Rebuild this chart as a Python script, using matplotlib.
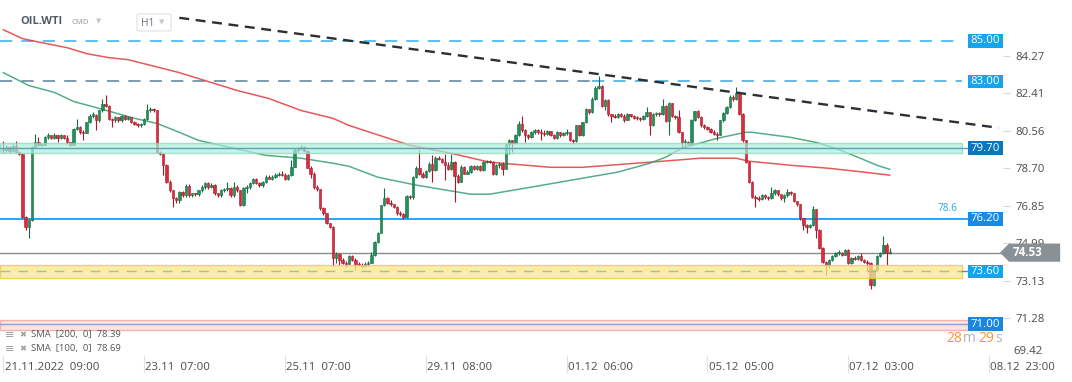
import numpy as np
import matplotlib
matplotlib.use("Agg")
import matplotlib.pyplot as plt
from matplotlib.transforms import blended_transform_factory
from matplotlib.patches import Rectangle, Polygon, FancyBboxPatch

plt.rcParams['font.family'] = ['Open Sans', 'DejaVu Sans']

# OIL.WTI hourly candles, 21.11.2022 -> 08.12.2022
first_open = 79.67
closes = [79.59, 79.75, 79.55, 79.80, 79.50, 79.42, 76.30, 75.81, 76.14, 79.75,
          80.00, 79.83, 79.87, 80.24, 80.33, 80.20, 80.33, 80.20, 80.33, 80.20,
          80.00, 79.87, 80.66, 80.74, 80.49, 80.45, 80.98, 81.31, 81.35, 81.07,
          81.56, 81.89, 81.80, 81.15, 81.07, 81.23, 81.07, 81.31, 81.15, 81.23,
          80.98, 80.90, 80.82, 80.90, 81.15, 81.56, 81.64, 81.56, 79.51, 79.42,
          78.85, 78.03, 77.62, 77.21, 77.13, 77.54, 77.37, 77.83, 77.37, 77.46,
          77.41, 77.62, 77.78, 77.95, 77.78, 77.87, 77.46, 77.37, 77.62, 77.70,
          77.74, 77.37, 77.78, 77.62, 76.88, 77.74, 77.78, 77.95, 78.16, 77.95,
          77.87, 78.00, 78.28, 78.19, 78.28, 78.36, 78.44, 78.36, 78.19, 78.36,
          78.77, 79.59, 79.64, 79.75, 79.54, 78.72, 78.44, 77.78, 77.67, 76.72,
          76.47, 75.98, 75.81, 74.25, 74.45, 74.17, 74.04, 73.97, 74.37, 74.17,
          73.99, 73.92, 73.87, 73.97, 74.04, 74.41, 75.07, 75.51, 76.88, 77.21,
          76.99, 76.93, 76.80, 76.47, 76.42, 76.27, 77.34, 77.26, 78.27, 78.73,
          78.40, 78.27, 78.57, 78.93, 78.60, 79.23, 79.18, 79.01, 78.85, 78.68,
          79.01, 78.31, 78.03, 78.77, 78.44, 78.52, 78.80, 78.68, 78.80, 78.60,
          79.01, 79.05, 79.00, 78.40, 78.85, 78.93, 78.68, 79.92, 80.08, 79.95,
          80.33, 80.90, 80.57, 80.33, 80.24, 80.49, 80.57, 80.49, 80.45, 80.40,
          80.54, 80.37, 80.21, 80.49, 80.33, 80.44, 80.49, 80.11, 80.03, 80.82,
          80.33, 80.98, 81.64, 81.47, 82.13, 82.67, 82.79, 81.80, 82.10, 81.36,
          81.31, 81.26, 81.39, 81.31, 81.10, 81.39, 81.31, 81.20, 81.17, 81.12,
          81.31, 81.47, 80.82, 81.39, 81.43, 81.39, 81.80, 81.06, 81.92, 81.31,
          81.23, 80.49, 80.00, 80.02, 79.90, 81.10, 81.52, 81.25, 80.82, 80.74,
          80.66, 80.49, 80.41, 80.37, 81.07, 81.43, 81.73, 82.22, 82.14, 82.42,
          81.40, 80.08, 79.02, 78.03, 77.29, 77.22, 77.18, 77.37, 77.29, 77.22,
          77.49, 77.62, 77.42, 77.21, 77.37, 77.54, 77.46, 77.10, 76.93, 76.23,
          75.90, 75.81, 75.90, 76.67, 75.65, 74.75, 74.09, 73.93, 74.17, 74.34,
          74.50, 74.52, 74.42, 74.67, 74.04, 74.26, 74.21, 74.34, 74.17, 74.09,
          74.00, 72.94, 73.65, 74.34, 74.50, 74.91, 74.50, 74.53]
highs = [80.05, 79.85, 79.80, 79.90, 80.05, 79.55, 79.45, 76.35, 76.20, 79.80,
         80.41, 80.24, 79.95, 80.30, 80.45, 80.35, 80.45, 80.35, 80.40, 80.35,
         80.35, 80.00, 80.70, 81.15, 80.80, 80.60, 81.00, 81.40, 81.50, 81.40,
         81.60, 82.13, 82.30, 81.85, 81.20, 81.30, 81.25, 81.35, 81.35, 81.30,
         81.25, 81.05, 80.95, 80.95, 81.20, 81.89, 81.75, 81.70, 81.60, 79.55,
         79.45, 78.90, 78.10, 77.65, 77.30, 77.60, 77.60, 77.90, 77.90, 77.50,
         77.50, 77.65, 77.85, 78.00, 78.00, 77.95, 77.90, 77.50, 77.70, 77.75,
         78.03, 77.80, 78.00, 77.85, 77.65, 77.80, 77.85, 78.00, 78.20, 78.20,
         78.00, 78.05, 78.39, 78.35, 78.35, 78.45, 78.50, 78.55, 78.45, 78.40,
         79.10, 79.70, 79.75, 79.84, 79.80, 79.60, 78.80, 78.50, 77.85, 77.70,
         76.80, 76.50, 76.00, 75.85, 74.55, 74.50, 74.25, 74.10, 74.42, 74.40,
         74.25, 74.05, 74.00, 74.05, 74.10, 74.58, 75.10, 75.55, 76.90, 77.75,
         77.30, 77.15, 76.95, 76.85, 76.60, 76.50, 77.40, 77.40, 78.30, 78.80,
         79.59, 78.50, 78.60, 79.00, 79.34, 79.30, 79.30, 79.20, 79.42, 79.00,
         79.42, 79.05, 78.40, 78.85, 78.80, 78.60, 78.85, 78.85, 78.85, 78.85,
         79.05, 79.10, 79.10, 79.05, 78.90, 79.00, 79.00, 79.95, 80.15, 80.10,
         80.40, 81.03, 81.31, 80.65, 80.40, 80.55, 80.65, 80.65, 80.62, 80.60,
         80.60, 80.55, 80.40, 80.55, 80.50, 80.50, 80.65, 80.50, 80.15, 80.85,
         80.85, 81.00, 81.70, 81.65, 82.20, 82.75, 83.28, 82.80, 82.15, 82.15,
         81.40, 81.40, 81.45, 81.45, 81.40, 81.45, 81.40, 81.35, 81.30, 81.25,
         81.35, 81.72, 81.50, 81.45, 81.50, 81.50, 82.13, 81.85, 82.00, 81.95,
         81.35, 81.56, 80.50, 80.15, 80.05, 81.15, 81.55, 81.60, 81.30, 80.90,
         80.80, 80.70, 80.60, 80.50, 81.10, 81.50, 81.80, 82.30, 82.30, 82.71,
         82.50, 81.45, 80.10, 79.05, 78.05, 77.40, 77.35, 77.45, 77.45, 77.35,
         77.79, 77.70, 77.65, 77.45, 77.45, 77.70, 77.60, 77.50, 77.10, 76.95,
         76.25, 75.95, 75.95, 76.83, 76.70, 75.70, 74.80, 74.10, 74.20, 74.40,
         74.55, 74.67, 74.55, 74.72, 74.70, 74.30, 74.35, 74.40, 74.53, 74.20,
         74.15, 74.05, 73.70, 74.40, 74.55, 75.36, 75.00, 74.75]
lows = [79.45, 79.50, 79.45, 79.50, 79.45, 79.34, 76.25, 75.65, 75.24, 76.10,
        79.70, 79.80, 79.80, 79.85, 80.15, 80.15, 80.15, 80.00, 80.15, 80.15,
        79.90, 79.80, 79.85, 80.60, 80.40, 80.10, 80.45, 80.95, 81.20, 80.57,
        81.00, 81.50, 81.75, 81.10, 80.74, 81.00, 81.00, 81.00, 81.10, 81.10,
        80.95, 80.85, 80.75, 80.75, 80.85, 81.10, 81.50, 81.50, 79.45, 79.35,
        78.36, 77.95, 77.55, 76.80, 77.00, 77.00, 77.30, 77.30, 77.30, 77.30,
        77.35, 77.35, 77.55, 77.70, 77.70, 77.75, 77.40, 77.30, 77.30, 77.55,
        77.60, 77.30, 77.30, 77.55, 76.85, 76.85, 77.50, 77.70, 77.90, 77.90,
        77.80, 77.80, 77.95, 78.15, 78.10, 78.20, 78.30, 78.30, 78.10, 78.10,
        78.30, 78.75, 79.50, 79.60, 79.50, 78.70, 78.20, 77.70, 77.60, 76.65,
        76.40, 75.95, 75.75, 73.89, 74.00, 73.90, 73.95, 73.84, 73.95, 74.10,
        73.68, 73.85, 73.75, 73.80, 73.85, 74.00, 74.35, 75.00, 75.50, 76.85,
        76.95, 76.85, 76.75, 76.40, 76.35, 76.20, 76.25, 77.20, 77.20, 78.20,
        78.35, 78.20, 78.20, 78.50, 78.03, 78.55, 79.10, 78.95, 78.11, 78.60,
        78.60, 77.04, 77.95, 78.00, 78.40, 78.40, 78.45, 78.60, 78.60, 78.55,
        78.55, 78.95, 78.95, 78.35, 78.35, 78.70, 78.35, 78.65, 79.42, 79.50,
        79.90, 80.30, 80.50, 80.00, 80.15, 80.20, 80.40, 80.40, 80.08, 80.30,
        80.35, 80.30, 80.15, 80.15, 80.25, 80.30, 80.35, 80.05, 79.91, 80.00,
        80.30, 80.30, 80.95, 81.40, 81.45, 82.10, 82.60, 81.75, 81.56, 81.30,
        80.98, 81.20, 81.20, 81.25, 81.00, 81.10, 81.25, 81.15, 81.10, 81.05,
        81.10, 81.25, 80.33, 80.80, 81.30, 81.30, 81.35, 81.00, 80.33, 81.25,
        81.15, 80.45, 79.72, 79.72, 79.85, 79.85, 81.05, 81.20, 80.75, 80.65,
        80.60, 80.45, 80.35, 80.08, 80.35, 81.00, 81.40, 81.70, 82.05, 82.10,
        81.35, 80.00, 78.95, 77.95, 77.25, 76.80, 77.10, 77.15, 77.20, 77.15,
        77.20, 77.40, 77.35, 77.15, 77.05, 77.30, 77.40, 77.05, 76.85, 76.15,
        75.65, 75.49, 75.75, 75.85, 75.24, 74.70, 74.00, 73.43, 73.76, 74.10,
        74.30, 74.40, 74.35, 74.40, 73.95, 73.95, 74.15, 74.15, 74.10, 74.00,
        73.60, 72.73, 72.90, 73.60, 74.30, 74.45, 73.93, 74.45]

# moving averages (candle index, price)
sma200_idx = [0, 6, 12, 20, 26, 33, 39, 55, 73, 83, 93, 103, 108, 127, 140, 152,
              171, 181, 202, 218, 229, 233, 246, 258, 269, 277]
sma200_val = [85.55, 85.11, 84.91, 84.66, 84.37, 84.17, 84.07, 83.43, 82.55, 82.15,
              81.56, 81.17, 80.82, 79.84, 79.44, 79.00, 78.75, 78.75, 79.00, 79.20,
              79.20, 79.05, 78.85, 78.70, 78.51, 78.36]
sma100_idx = [0, 8, 16, 22, 30, 41, 48, 55, 61, 72, 82, 93, 103, 108, 117, 129, 146,
              152, 165, 181, 192, 202, 207, 212, 223, 232, 234, 246, 254, 260, 267,
              273, 277]
sma100_val = [83.43, 82.79, 82.45, 82.00, 81.66, 81.17, 80.92, 80.48, 80.08, 79.69,
              79.34, 79.20, 78.95, 78.80, 78.26, 77.87, 77.42, 77.42, 77.77, 78.21,
              78.51, 78.95, 79.25, 79.69, 80.18, 80.48, 80.48, 80.23, 79.98, 79.69,
              79.25, 78.85, 78.65]
trend_idx = [55, 311]
trend_val = [86.14, 80.70]

price_ticks = [84.27, 82.41, 80.56, 78.70, 76.85, 74.99, 73.13, 71.28]
time_idx = [0, 44, 88, 132, 176, 220, 264, 308]
time_labels = ['21.11.2022  09:00', '23.11  07:00', '25.11  07:00', '29.11  08:00',
               '01.12  06:00', '05.12  05:00', '07.12  03:00', '08.12  23:00']
last_price = 74.53

W, H = 1072, 382
fig = plt.figure(figsize=(W / 100, H / 100), dpi=100)
ax = fig.add_axes([0, (H - 355) / H, 1003 / W, 355 / H])
ax.set_xlim(-1.03, 312.4)
ax.set_ylim(69.47, 87.02)
for s in ax.spines.values():
    s.set_visible(False)
bt = blended_transform_factory(ax.transAxes, ax.transData)

def px(x, y):
    return x / W, 1 - y / H

# candles
n = len(closes)
idx = np.arange(n)
c = np.array(closes)
o = np.array([first_open] + closes[:-1])
up = c >= o
body_col = np.where(up, '#1f9159', '#df2a3b')
edge_col = np.where(up, '#146b40', '#a3192a')
ax.vlines(idx, lows, highs, colors=edge_col, lw=0.8, zorder=3)
ax.bar(idx, np.maximum(np.abs(c - o), 0.05), bottom=np.minimum(o, c), width=0.75,
       color=body_col, edgecolor=edge_col, linewidth=0.4, zorder=4)

# moving averages
ax.plot(sma200_idx, sma200_val, color='#e23c3c', lw=1.1, alpha=0.85, zorder=2)
ax.plot(sma100_idx, sma100_val, color='#38a074', lw=1.1, alpha=0.85, zorder=2)

# trend line
ax.plot(trend_idx, trend_val, color='#2a3036', lw=1.7, ls=(0, (4.2, 2.8)), zorder=6,
        solid_capstyle='butt')

# horizontal levels
ax.axhline(85.0, xmax=0.959, color='#2cb2ee', lw=1.1, ls=(0, (8, 6)), zorder=1)
ax.axhline(83.0, xmax=0.59, color='#55809e', lw=1.1, ls=(0, (8, 6)), zorder=1)
ax.axhline(83.0, xmin=0.59, xmax=0.959, color='#3aa6de', lw=1.1, ls=(0, (8, 6)), zorder=1)
ax.axhspan(79.46, 79.95, xmax=0.959, fc='#aeeed6', ec='#82d8b8', lw=1, alpha=0.7, zorder=5)
ax.axhline(79.70, xmax=0.967, color='#5c9fc4', lw=1.0, zorder=5)
ax.axhline(76.20, xmax=0.967, color='#1b9cf2', lw=1.3, zorder=2)
ax.axhline(last_price, xmax=1.0, color='#8a8d90', lw=1.0, zorder=2)
ax.axhspan(73.28, 73.93, xmax=0.959, fc='#fde690', ec='#f2c53a', lw=1, alpha=0.75, zorder=5)
ax.axhline(73.60, xmax=0.959, color='#9cc3a0', lw=1.0, ls=(0, (7, 6)), zorder=5)
ax.axhline(73.60, xmin=0.959, xmax=0.967, color='#1ba0e8', lw=1.0, zorder=5)
ax.axhspan(70.72, 71.22, xmax=0.965, fc='#fde0e0', ec='#f3a9a9', lw=1, alpha=0.85, zorder=5)
ax.axhline(71.00, xmax=0.965, color='#8a9ed8', lw=1.0, zorder=6)
ax.text(0.955, 76.20 + 0.22, '78.6', transform=bt, color='#2aa6ea', fontsize=7.2,
        ha='right', va='bottom', zorder=7)

# level boxes on the right
boxes = [(85.00, '#14a5ec'), (83.00, '#14a5ec'), (79.70, '#0a76bd'),
         (76.20, '#1a8ae6'), (73.60, '#18a2ea'), (71.00, '#1a86e3')]
for val, col in boxes:
    ax.add_patch(Rectangle((0.965, val - 0.33), 0.035, 0.66, transform=bt, fc=col,
                           ec='none', zorder=8, clip_on=False))
    ax.text(0.9825, val, f'{val:.2f}', transform=bt, color='white', fontsize=8.2,
            ha='center', va='center', zorder=9)

# price axis
ax.yaxis.tick_right()
ax.set_yticks(price_ticks)
ax.set_yticklabels([f'{p:.2f}' for p in price_ticks])
ax.tick_params(axis='y', length=5, color='#d8d8d8', pad=4, labelsize=8.2,
               labelcolor='#4a4a4a')
ax.text(1.01, 69.64, '69.42', transform=bt, fontsize=8.2, color='#4a4a4a',
        ha='left', va='center', clip_on=False)

# last price arrow
ax.add_patch(Polygon([(0.997, last_price), (1.006, last_price + 0.45),
                      (1.057, last_price + 0.45), (1.057, last_price - 0.45),
                      (1.006, last_price - 0.45)], closed=True, transform=bt,
                     fc='#8a9196', ec='none', zorder=10, clip_on=False))
ax.text(1.0095, last_price, f'{last_price:.2f}', transform=bt, color='white',
        fontsize=8.4, fontweight='bold', ha='left', va='center', zorder=11)

# time axis
ax.set_xticks(time_idx)
ax.set_xticklabels([])
ax.tick_params(axis='x', length=13, width=0.8, color='#e2e2e2')
tx = blended_transform_factory(ax.transData, ax.transAxes)
for i, lab in zip(time_idx, time_labels):
    ax.text(i + 0.4, -0.034, lab, transform=tx, fontsize=8.2, color='#4a4a4a',
            ha='left', va='center', clip_on=False)

# countdown
for x, s, col in [(946, '28', '#f59a2c'), (963, 'm', '#b0b4b8'),
                  (978, '29', '#f59a2c'), (995, 's', '#b0b4b8')]:
    fig.text(*px(x, 339), s, fontsize=10, color=col, ha='left', va='center')

# header
fig.text(*px(20, 22), 'OIL.WTI', fontsize=8, fontweight='bold', color='#505b66',
         ha='left', va='center')
fig.text(*px(72, 23), 'CMD', fontsize=5.6, color='#8e99a5',
         ha='left', va='center')
fig.text(*px(96, 21), '▼', fontsize=5, color='#c3c8cd', ha='left', va='center',
         family='DejaVu Sans')
fig.patches.append(FancyBboxPatch(px(137, 31), 34 / W, 17 / H,
                                  boxstyle='round,pad=0,rounding_size=0.003',
                                  transform=fig.transFigure, fc='white',
                                  ec='#dde1e5', lw=0.8))
fig.text(*px(141, 23), 'H1', fontsize=7.4, color='#6b7580', ha='left', va='center')
fig.text(*px(159, 22), '▼', fontsize=5, color='#c3c8cd', ha='left', va='center',
         family='DejaVu Sans')

# indicator legend
for y, lab in [(335, 'SMA  [200,  0]  78.39'), (349, 'SMA  [100,  0]  78.69')]:
    fig.text(*px(5, y), '≡', fontsize=8, color='#9a9a9a', ha='left', va='center',
             family='DejaVu Sans')
    fig.text(*px(19, y), '✖', fontsize=6, color='#a0a0a0', ha='left', va='center',
             family='DejaVu Sans')
    fig.text(*px(31, y), lab, fontsize=6.8, color='#555555', ha='left', va='center')

fig.savefig('out.png', dpi=100, facecolor='white')
